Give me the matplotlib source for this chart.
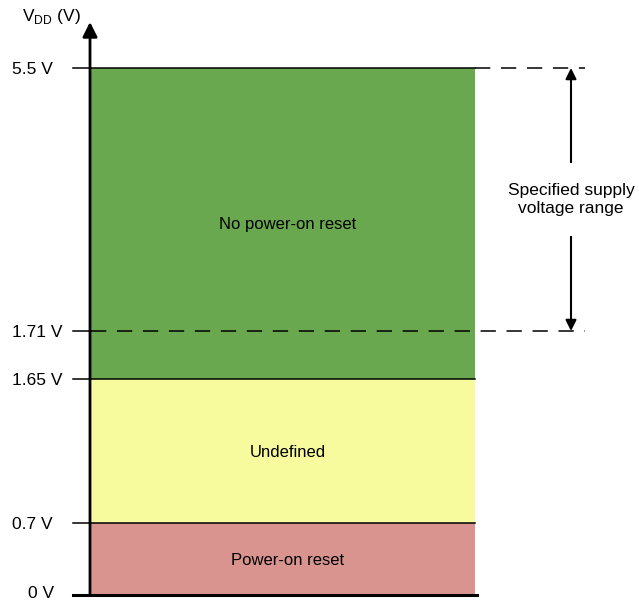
import numpy as np
import matplotlib.pyplot as plt

plt.rcParams['font.family'] = ['Liberation Sans', 'DejaVu Sans']
plt.rcParams['mathtext.fontset'] = 'custom'
plt.rcParams['mathtext.rm'] = 'Liberation Sans'

# voltage levels (V)
bottoms = [0.0, 0.7, 1.65]
tops = [0.7, 1.65, 5.5]
region_labels = ['Power-on reset', 'Undefined', 'No power-on reset']
region_colors = ['#d99490', '#f7fb9e', '#6aa84f']
tick_values = [0.0, 0.7, 1.65, 1.71, 5.5]
tick_labels = ['0 V', '0.7 V', '1.65 V', '1.71 V', '5.5 V']
vmin_spec, vmax_spec = 1.71, 5.5

# diagram is not drawn to scale: piecewise mapping volts -> pixel rows
v_knots = np.array([-1.0, 0.0, 0.7, 1.65, 1.71, 5.5, 6.5, 7.0])
p_knots = np.array([0.0, 7.0, 79.0, 223.0, 271.0, 534.0, 580.0, 602.0])


def fwd(v):
    return np.interp(v, v_knots, p_knots)


def inv(p):
    return np.interp(p, p_knots, v_knots)


fig = plt.figure(figsize=(6.39, 6.02), dpi=100)
ax = fig.add_axes([0, 0, 1, 1])
ax.set_yscale('function', functions=(fwd, inv))
ax.set_xlim(0, 639)
ax.set_ylim(-1.0, 7.0)
ax.axis('off')

fs = 12
x0, x1 = 91, 475
for b, t, lab, c in zip(bottoms, tops, region_labels, region_colors):
    ax.bar((x0 + x1) / 2, t - b, bottom=b, width=x1 - x0, color=c,
           edgecolor='none', zorder=1)
    ymid = inv((fwd(b) + fwd(t)) / 2)
    ax.text(288, ymid, lab, ha='center', va='center_baseline', fontsize=fs,
            zorder=3)

# level lines and tick marks
for v in [0.7, 1.65, 5.5]:
    ax.plot([73, x1], [v, v], color='black', lw=1.1, zorder=2)
ax.plot([73, 91], [1.71, 1.71], color='black', lw=1.1, zorder=2)
ax.plot([73, x1 + 2], [0, 0], color='black', lw=2.2, zorder=2)

# dashed lines for specified supply range
ax.plot([x1, 585], [vmax_spec, vmax_spec], color='black', lw=1.1,
        dashes=(10, 7), zorder=2)
ax.plot([91, 585], [vmin_spec, vmin_spec], color='black', lw=1.1,
        dashes=(10, 7), zorder=2)

# tick labels
for v, lab in zip(tick_values, tick_labels):
    if v == 0:
        ax.text(28, inv(1.0), lab, ha='left', va='bottom', fontsize=12.5)
    else:
        ax.text(12, v, lab, ha='left', va='center_baseline', fontsize=12.5)

# y axis with arrow
ax.annotate('', xy=(90, 6.5), xytext=(90, 0),
            arrowprops=dict(arrowstyle='-|>', color='black', lw=2.0,
                            mutation_scale=22, shrinkA=0, shrinkB=0))
ax.text(22, 6.62, r'V$_{\mathrm{DD}}$ (V)', ha='left', va='center',
        fontsize=12.5)

# double arrow for specified range
ax.annotate('', xy=(571, vmax_spec), xytext=(571, vmin_spec),
            arrowprops=dict(arrowstyle='<|-|>', color='black', lw=1.5,
                            mutation_scale=16, shrinkA=0, shrinkB=0))
ax.text(571, inv((fwd(vmin_spec) + fwd(vmax_spec)) / 2),
        'Specified supply\nvoltage range', ha='center', va='center',
        fontsize=12.5, linespacing=1.3,
        bbox=dict(facecolor='white', edgecolor='none', pad=14), zorder=5)

fig.savefig('out.png', dpi=100)
